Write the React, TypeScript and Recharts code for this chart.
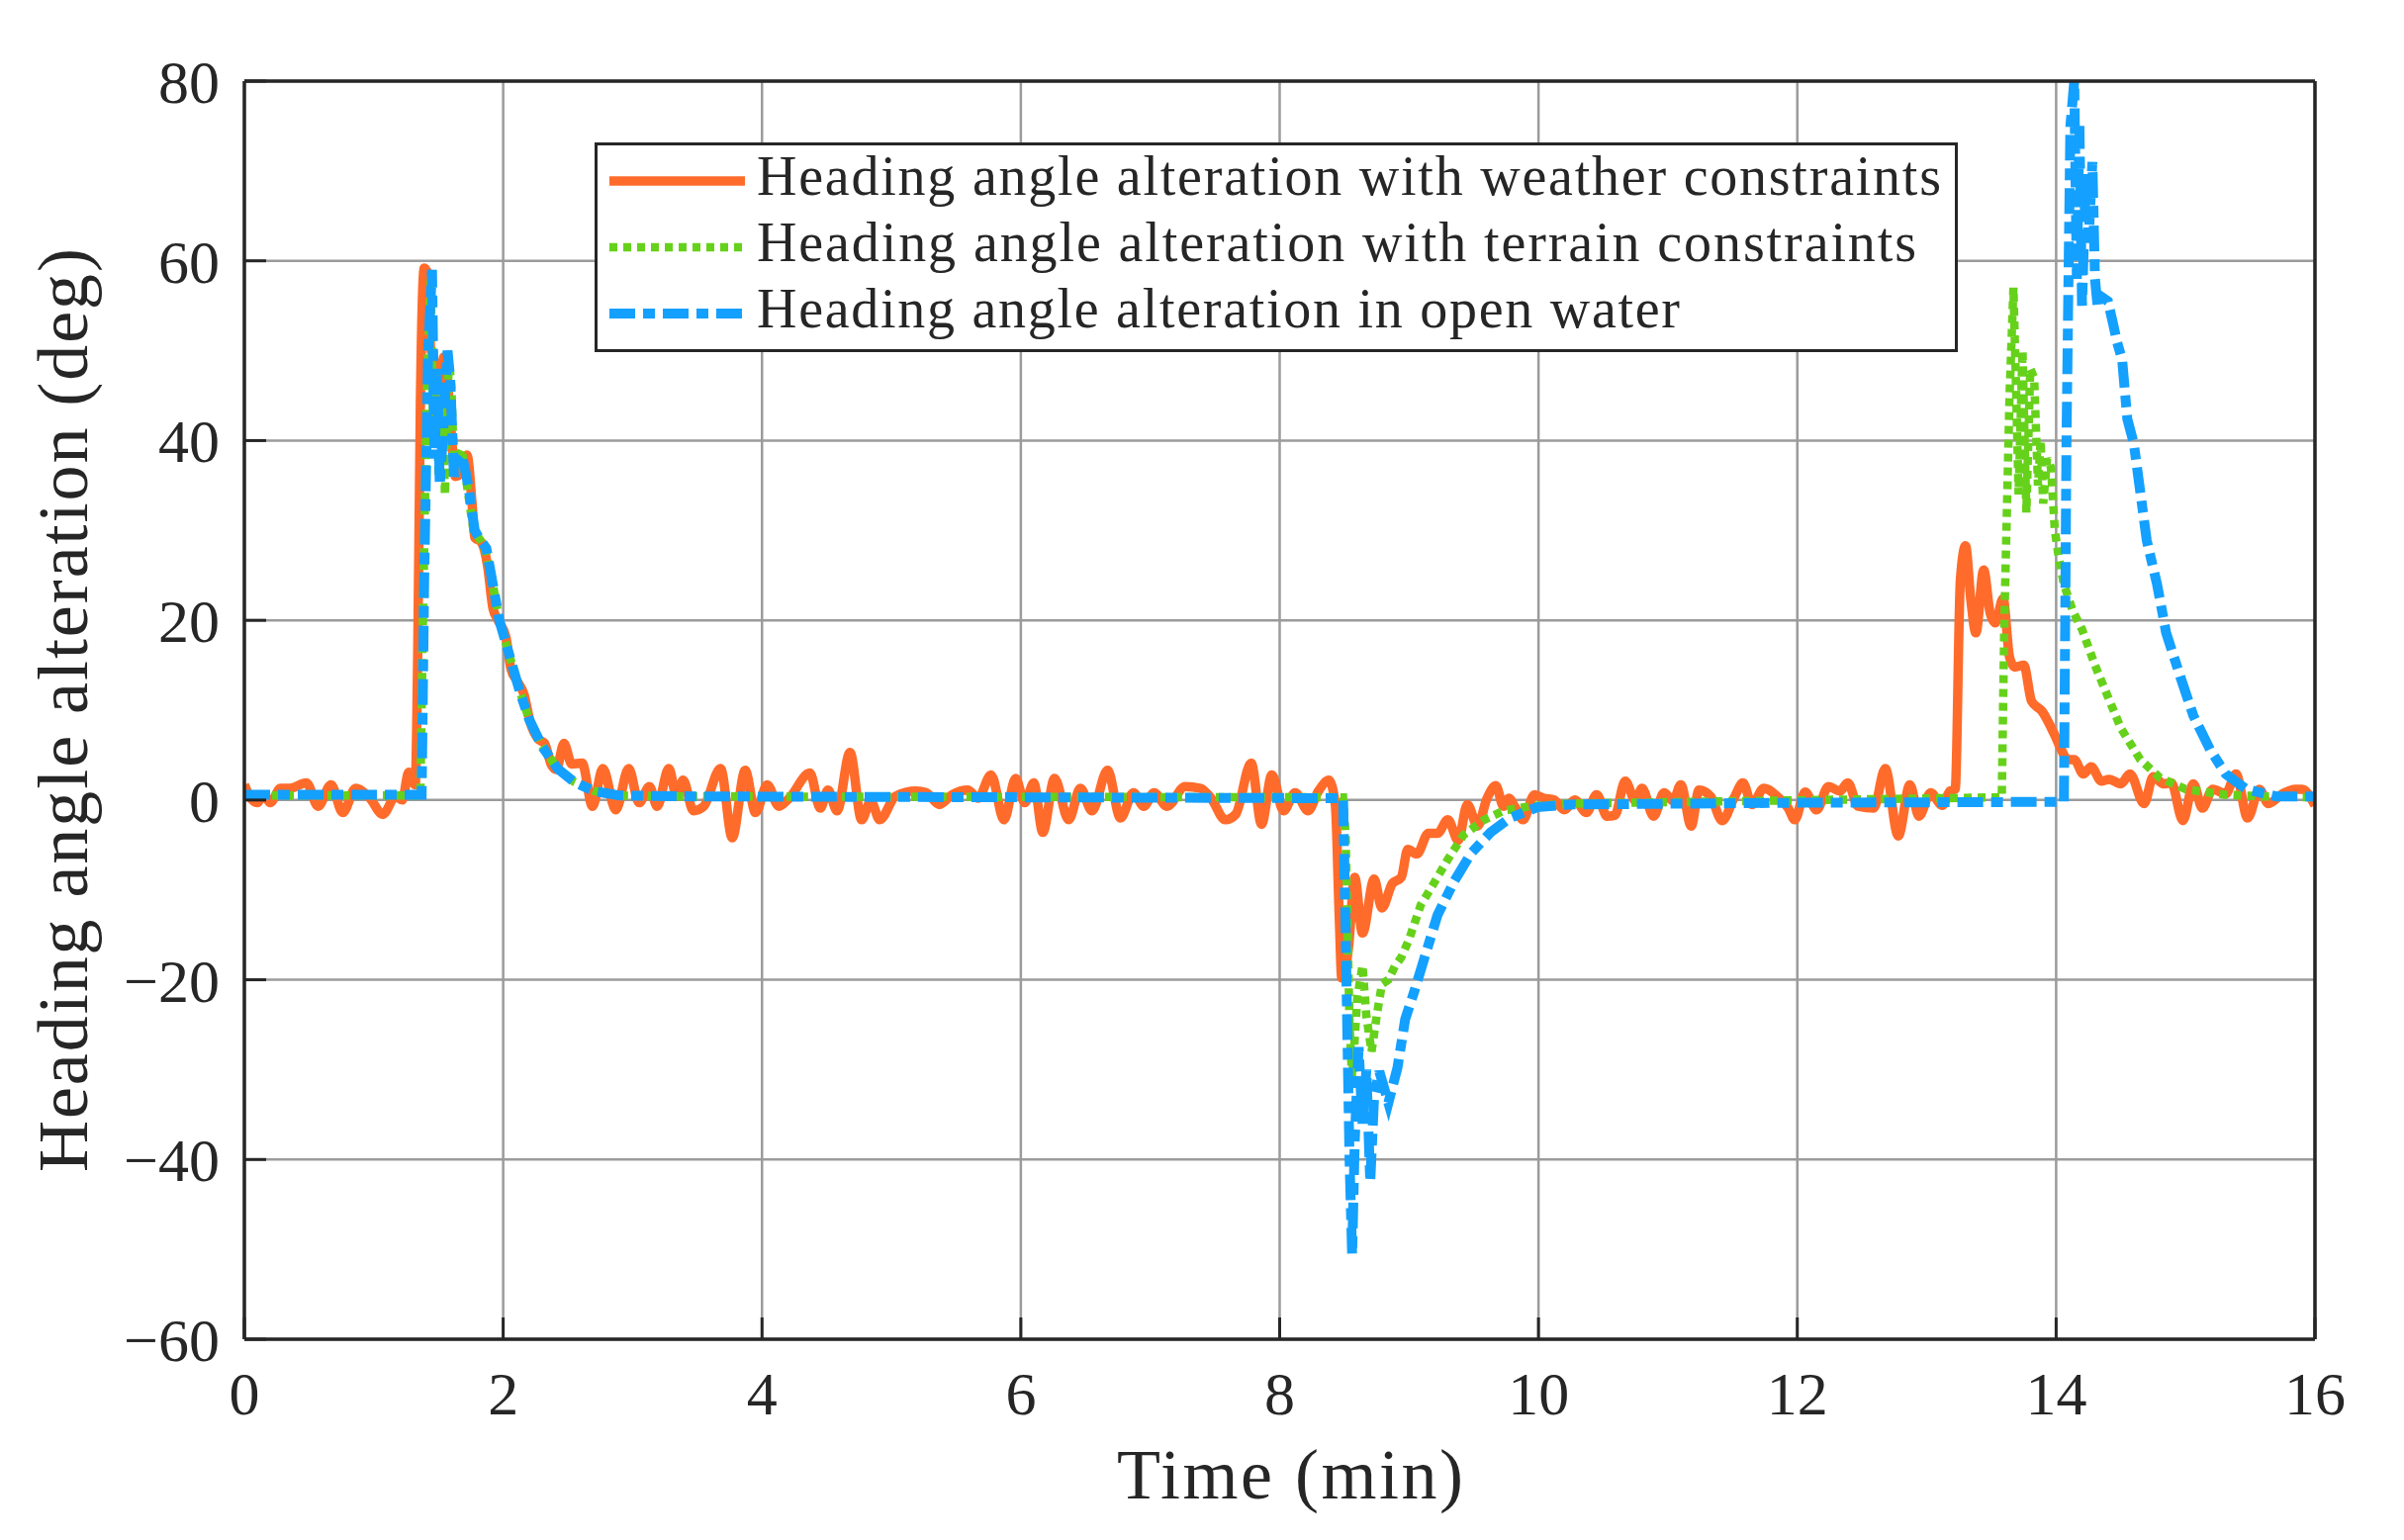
import React from 'react';
import { LineChart, Line, XAxis, YAxis, CartesianGrid, Legend } from 'recharts';

// ---- data: [time (min), heading angle alteration (deg)] ----
const weatherPoints: number[][] = [
  [0.0, 1.7], [0.05, 0.2], [0.1, -0.3], [0.15, 0.6], [0.2, -0.3], [0.28, 1.3], [0.35, 1.3],
  [0.48, 1.9], [0.57, -0.7], [0.67, 1.7], [0.76, -1.4], [0.86, 1.3], [0.97, 0.2], [1.07, -1.6],
  [1.17, 0.4], [1.22, 0.0], [1.27, 3.1], [1.32, 1.7], [1.34, 16.8], [1.36, 44], [1.39, 59.2],
  [1.42, 58.5], [1.44, 50], [1.46, 49.8], [1.48, 39.7], [1.5, 41.6], [1.54, 49.3], [1.56, 48],
  [1.6, 40.6], [1.63, 36], [1.68, 36.5], [1.72, 38.4], [1.76, 32.9], [1.78, 29.2], [1.83, 28.7],
  [1.88, 26], [1.92, 21.4], [1.96, 20], [2.02, 18.2], [2.06, 14.6], [2.11, 13.2], [2.16, 11.8],
  [2.21, 8.6], [2.27, 6.8], [2.32, 6.3], [2.37, 4.0], [2.41, 3.4], [2.47, 6.3], [2.53, 4.0],
  [2.61, 4.1], [2.69, -0.7], [2.77, 3.5], [2.87, -1.1], [2.97, 3.5], [3.05, -0.3], [3.13, 1.5],
  [3.19, -0.7], [3.28, 3.5], [3.34, 0.4], [3.39, 2.2], [3.47, -1.2], [3.55, -0.7], [3.68, 3.5],
  [3.77, -4.2], [3.87, 3.3], [3.95, -1.4], [4.04, 1.7], [4.13, -0.7], [4.21, 0.2], [4.37, 3.0],
  [4.45, -0.9], [4.51, 1.1], [4.58, -1.2], [4.68, 5.3], [4.77, -2.2], [4.84, -0.1], [4.91, -2.2],
  [5.03, 0.4], [5.19, 1.0], [5.27, 0.8], [5.37, -0.5], [5.47, 0.6], [5.59, 1.1], [5.67, 0.2],
  [5.77, 2.8], [5.87, -2.2], [5.96, 2.4], [6.03, -0.3], [6.1, 1.9], [6.17, -3.6], [6.26, 2.4],
  [6.37, -2.2], [6.46, 1.3], [6.55, -1.2], [6.67, 3.3], [6.77, -2.0], [6.87, 0.8], [6.95, -0.7],
  [7.03, 0.8], [7.13, -0.7], [7.27, 1.5], [7.39, 1.3], [7.47, 0.2], [7.58, -2.2], [7.66, -1.6],
  [7.78, 4.1], [7.86, -2.7], [7.94, 2.8], [8.03, -1.2], [8.12, 0.8], [8.22, -1.2], [8.3, 1.0],
  [8.38, 2.2], [8.43, -0.5], [8.46, -12.8], [8.48, -19.8], [8.53, -16.7], [8.58, -8.6],
  [8.64, -14.8], [8.73, -8.8], [8.79, -12], [8.87, -9.3], [8.94, -8.6], [8.99, -5.5], [9.06, -6.0],
  [9.15, -3.7], [9.22, -3.7], [9.3, -2.2], [9.38, -4.5], [9.45, -0.5], [9.53, -2.9], [9.6, 0.1],
  [9.67, 1.6], [9.73, -0.7], [9.77, 0.2], [9.82, -0.8], [9.88, -2.2], [9.97, 0.6], [10.04, 0.2],
  [10.12, 0.0], [10.2, -1.1], [10.28, 0.0], [10.37, -1.4], [10.45, 0.6], [10.53, -1.8],
  [10.59, -1.7], [10.67, 2.1], [10.75, -0.1], [10.8, 1.3], [10.89, -1.8], [10.97, 0.8],
  [11.04, -0.1], [11.1, 1.7], [11.18, -2.9], [11.24, 1.1], [11.33, 0.4], [11.42, -2.3],
  [11.51, 0.2], [11.58, 1.9], [11.65, -0.5], [11.74, 1.3], [11.86, 0.2], [11.93, -0.9],
  [11.98, -2.2], [12.06, 0.9], [12.15, -1.1], [12.24, 1.5], [12.33, 1.0], [12.39, 1.9],
  [12.47, -0.7], [12.59, -0.9], [12.68, 3.5], [12.78, -4.0], [12.87, 1.7], [12.94, -1.8],
  [13.03, 0.8], [13.12, -0.6], [13.18, 1.0], [13.22, 1.2], [13.26, 24.5], [13.3, 28.3],
  [13.34, 22.4], [13.38, 18.6], [13.44, 25.6], [13.49, 20.8], [13.53, 19.7], [13.59, 22.4],
  [13.64, 15.9], [13.68, 14.8], [13.75, 15.0], [13.81, 11.0], [13.89, 9.9], [13.99, 7.2],
  [14.04, 5.6], [14.09, 4.5], [14.14, 4.5], [14.21, 2.9], [14.27, 3.7], [14.35, 2.1],
  [14.41, 2.3], [14.5, 1.8], [14.57, 2.9], [14.68, -0.4], [14.75, 2.6], [14.83, 1.8],
  [14.89, 1.9], [14.98, -2.3], [15.06, 1.8], [15.13, -0.9], [15.21, 1.2], [15.31, 0.7],
  [15.39, 2.9], [15.48, -2.0], [15.57, 1.2], [15.64, -0.4], [15.75, 0.7], [15.85, 1.2],
  [15.9, 1.2], [16.0, -0.6],
];

const terrainPoints: number[][] = [
  [0, 0.5], [1.36, 0.5], [1.38, 20], [1.41, 45], [1.44, 58], [1.46, 40], [1.48, 48], [1.5, 36],
  [1.53, 45], [1.55, 34], [1.58, 49], [1.6, 46], [1.62, 37], [1.65, 38], [1.68, 39], [1.72, 35],
  [1.77, 30], [1.82, 29], [1.87, 27.5], [1.92, 24], [1.97, 20], [2.05, 16], [2.13, 12], [2.2, 9],
  [2.3, 6], [2.42, 3.5], [2.55, 2], [2.7, 1.0], [2.9, 0.5], [3.3, 0.4], [8.49, 0.3], [8.51, -4],
  [8.54, -25], [8.56, -31], [8.6, -22], [8.64, -18.4], [8.67, -24], [8.71, -28], [8.75, -24],
  [8.79, -20.5], [8.84, -20], [8.89, -18.5], [8.94, -17.5], [9.0, -15.5], [9.09, -11.7],
  [9.19, -9.3], [9.3, -6.6], [9.42, -3.9], [9.58, -2.2], [9.73, -1.2], [9.93, -0.7], [10.24, -0.4],
  [13.58, 0.3], [13.6, 20], [13.64, 45], [13.67, 57], [13.69, 46], [13.71, 34], [13.74, 50],
  [13.77, 32], [13.8, 48], [13.83, 47], [13.86, 35], [13.88, 40], [13.9, 33], [13.93, 38],
  [13.96, 37], [13.99, 30], [14.02, 27], [14.06, 24], [14.13, 21], [14.2, 19], [14.3, 15],
  [14.4, 11.5], [14.5, 8], [14.65, 4.5], [14.8, 2.5], [15.0, 1.2], [15.3, 0.6], [15.6, 0.4], [16, 0.3],
];

const waterPoints: number[][] = [
  [0, 0.6], [1.37, 0.6], [1.39, 25], [1.42, 50], [1.45, 59], [1.47, 38], [1.49, 48], [1.51, 35],
  [1.54, 42], [1.57, 50], [1.59, 47], [1.62, 36], [1.65, 38], [1.68, 38.5], [1.73, 35], [1.78, 30],
  [1.82, 29], [1.87, 28], [1.92, 24], [1.97, 20], [2.05, 16], [2.13, 12], [2.2, 9], [2.3, 6],
  [2.42, 3.5], [2.55, 2], [2.7, 1.0], [2.9, 0.5], [3.5, 0.4], [6, 0.3], [8.49, 0.2], [8.51, -15],
  [8.54, -40], [8.56, -50.6], [8.58, -38], [8.61, -27.5], [8.64, -36], [8.67, -30], [8.7, -42.5],
  [8.73, -33], [8.77, -30.2], [8.84, -33.7], [8.91, -29.8], [8.97, -24.4], [9.04, -21.3],
  [9.12, -17.5], [9.22, -12.8], [9.35, -9], [9.48, -5.9], [9.63, -3.6], [9.78, -2], [9.99, -0.8],
  [10.24, -0.5], [12, -0.3], [14.06, -0.2], [14.08, 40], [14.11, 75], [14.14, 80], [14.16, 58],
  [14.18, 75], [14.2, 55], [14.23, 70], [14.25, 62], [14.28, 71], [14.3, 58], [14.32, 55],
  [14.35, 56], [14.4, 55.5], [14.44, 53], [14.47, 51], [14.51, 49], [14.55, 42.4], [14.6, 39.7],
  [14.65, 34.3], [14.7, 28.9], [14.78, 24], [14.85, 18.6], [14.96, 13.7], [15.06, 9.4],
  [15.19, 5.6], [15.31, 2.9], [15.47, 1.2], [15.7, 0.4], [16, 0.4],
];

const xTicks = [0, 2, 4, 6, 8, 10, 12, 14, 16];
const yTicks = [-60, -40, -20, 0, 20, 40, 60, 80];
const seriesLabels = [
  'Heading angle alteration with weather constraints',
  'Heading angle alteration with terrain constraints',
  'Heading angle alteration in open water',
];
const xLabel = 'Time (min)';
const yLabel = 'Heading angle alteration (deg)';

// ---- styles ----
const FONT = '"Liberation Serif", "Times New Roman", serif';
const INK = '#262626';
const GRID = '#9b9b9b';
const seriesStyles = [
  { color: '#ff6b2b', width: 9.5, dash: undefined as string | undefined, textLen: 1197 },
  { color: '#66d11a', width: 8.5, dash: '8 6', textLen: 1172 },
  { color: '#14a0ff', width: 10, dash: '26 8 12 8', textLen: 933 },
];

const toRows = (pts: number[][]) => pts.map(([t, v]) => ({ t, v }));
const weatherData = toRows(weatherPoints);
const terrainData = toRows(terrainPoints);
const waterData = toRows(waterPoints);

const fmtY = (v: number) => (v < 0 ? '\u2212' + Math.abs(v) : String(v));

const tickStyle = { fontSize: 62, fill: INK, fontFamily: FONT };

const renderLegend = () => (
  <div
    style={{
      width: 1378,
      height: 212,
      boxSizing: 'border-box',
      border: `3px solid ${INK}`,
      background: '#ffffff',
    }}
  >
    <svg width={1372} height={206} style={{ display: 'block' }}>
      {seriesLabels.map((label, i) => {
        const s = seriesStyles[i];
        const cy = 36 + 67 * i;
        return (
          <g key={label}>
            <line
              x1={12}
              x2={149}
              y1={cy}
              y2={cy}
              stroke={s.color}
              strokeWidth={s.width}
              strokeDasharray={s.dash}
            />
            <text
              x={161}
              y={cy + 14}
              fontSize={56}
              fontFamily={FONT}
              fill={INK}
              textLength={s.textLen}
            >
              {label}
            </text>
          </g>
        );
      })}
    </svg>
  </div>
);

const renderYLabel = () => (
  <text
    x={80}
    y={710}
    transform="rotate(-90, 80, 710)"
    textAnchor="middle"
    fontSize={72}
    fontFamily={FONT}
    fill={INK}
    textLength={934}
  >
    {yLabel}
  </text>
);

const renderXLabel = () => (
  <text
    x={1296}
    y={1507}
    textAnchor="middle"
    fontSize={72}
    fontFamily={FONT}
    fill={INK}
    textLength={350}
  >
    {xLabel}
  </text>
);

export default function App() {
  return (
    <div style={{ width: 2414, height: 1541, background: '#ffffff', fontFamily: FONT }}>
      <LineChart width={2414} height={1541} margin={{ top: 73, right: 81, bottom: 0, left: 0 }}>
        <CartesianGrid stroke={GRID} strokeWidth={2.5} horizontal vertical />
        <XAxis
          xAxisId={0}
          type="number"
          dataKey="t"
          domain={[0, 16]}
          ticks={xTicks}
          allowDataOverflow
          height={195}
          tick={tickStyle}
          tickSize={-22}
          tickMargin={54}
          axisLine={{ stroke: INK, strokeWidth: 3.5 }}
          tickLine={{ stroke: INK, strokeWidth: 3 }}
          label={{ content: renderXLabel }}
        />
        <XAxis
          xAxisId="top"
          orientation="top"
          type="number"
          dataKey="t"
          domain={[0, 16]}
          ticks={xTicks}
          allowDataOverflow
          height={1}
          tick={false}
          tickSize={-22}
          axisLine={{ stroke: INK, strokeWidth: 3.5 }}
          tickLine={{ stroke: INK, strokeWidth: 3 }}
        />
        <YAxis
          yAxisId={0}
          type="number"
          domain={[-60, 80]}
          ticks={yTicks}
          allowDataOverflow
          width={239}
          tick={tickStyle}
          tickFormatter={fmtY}
          tickSize={-22}
          tickMargin={47}
          axisLine={{ stroke: INK, strokeWidth: 3.5 }}
          tickLine={{ stroke: INK, strokeWidth: 3 }}
          label={{ content: renderYLabel }}
        />
        <YAxis
          yAxisId="right"
          orientation="right"
          type="number"
          domain={[-60, 80]}
          ticks={yTicks}
          allowDataOverflow
          width={1}
          tick={false}
          tickSize={-22}
          axisLine={{ stroke: INK, strokeWidth: 3.5 }}
          tickLine={{ stroke: INK, strokeWidth: 3 }}
        />
        <Line
          data={weatherData}
          dataKey="v"
          name={seriesLabels[0]}
          type="monotone"
          stroke={seriesStyles[0].color}
          strokeWidth={seriesStyles[0].width}
          strokeLinejoin="round"
          dot={false}
          isAnimationActive={false}
        />
        <Line
          data={terrainData}
          dataKey="v"
          name={seriesLabels[1]}
          type="linear"
          stroke={seriesStyles[1].color}
          strokeWidth={seriesStyles[1].width}
          strokeDasharray={seriesStyles[1].dash}
          dot={false}
          isAnimationActive={false}
        />
        <Line
          data={waterData}
          dataKey="v"
          name={seriesLabels[2]}
          type="linear"
          stroke={seriesStyles[2].color}
          strokeWidth={seriesStyles[2].width}
          strokeDasharray={seriesStyles[2].dash}
          dot={false}
          isAnimationActive={false}
        />
        <Legend
          layout="vertical"
          verticalAlign="middle"
          align="center"
          content={renderLegend}
          wrapperStyle={{ position: 'absolute', left: 593, top: 136, width: 1378, height: 212, margin: 0, padding: 0 }}
        />
      </LineChart>
    </div>
  );
}
